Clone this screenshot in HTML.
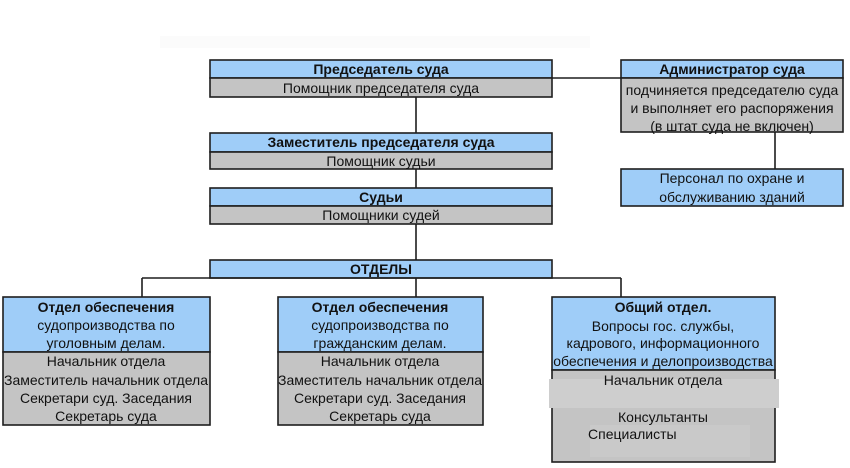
<!DOCTYPE html>
<html><head><meta charset="utf-8">
<style>
html,body{margin:0;padding:0;background:#fff;}
svg{display:block;}
text{font-family:"Liberation Sans","DejaVu Sans",sans-serif;font-size:14px;fill:#111;}
.b{font-weight:bold;font-size:14px;}
</style></head>
<body>
<svg width="850" height="468" viewBox="0 0 850 468" xmlns="http://www.w3.org/2000/svg">
<rect x="0" y="0" width="850" height="468" fill="#fff"/>
<rect x="160" y="36" width="430" height="12" fill="#fbfbfb"/>

<g stroke="#1e1e1e" stroke-width="1.6">
<rect x="210" y="60" width="342" height="18" fill="#9fcdf8"/>
<rect x="210" y="78" width="342" height="19" fill="#c4c4c4"/>
<rect x="210" y="133" width="342" height="19" fill="#9fcdf8"/>
<rect x="210" y="152" width="342" height="17" fill="#c4c4c4"/>
<rect x="210" y="188" width="342" height="18" fill="#9fcdf8"/>
<rect x="210" y="206" width="342" height="18" fill="#c4c4c4"/>
<rect x="210" y="260" width="342" height="18" fill="#9fcdf8"/>
<rect x="621" y="60" width="222" height="18" fill="#9fcdf8"/>
<rect x="621" y="78" width="222" height="54" fill="#c4c4c4"/>
<rect x="621" y="169" width="222" height="37" fill="#9fcdf8"/>
<rect x="3" y="297" width="207" height="55" fill="#9fcdf8"/>
<rect x="3" y="352" width="207" height="73" fill="#c4c4c4"/>
<rect x="278" y="297" width="205" height="55" fill="#9fcdf8"/>
<rect x="278" y="352" width="205" height="73" fill="#c4c4c4"/>
<rect x="552" y="297" width="223" height="73" fill="#9fcdf8"/>
<rect x="552" y="370" width="223" height="92" fill="#c4c4c4"/>

<line x1="416" y1="97" x2="416" y2="133" fill="none"/>
<line x1="416" y1="169" x2="416" y2="188" fill="none"/>
<line x1="416" y1="224" x2="416" y2="260" fill="none"/>
<line x1="552" y1="78" x2="621" y2="78" fill="none"/>
<line x1="775" y1="132" x2="775" y2="169" fill="none"/>
<line x1="142" y1="278" x2="621" y2="278" fill="none"/>
<line x1="142" y1="278" x2="142" y2="297" fill="none"/>
<line x1="416" y1="278" x2="416" y2="297" fill="none"/>
<line x1="621" y1="278" x2="621" y2="297" fill="none"/>
</g>

<rect x="549" y="379" width="230" height="29" fill="#cecece"/>
<rect x="590" y="425" width="160" height="32" fill="#c9c9c9"/>

<text class="b" x="381" y="74" text-anchor="middle">Председатель суда</text>
<text x="381" y="93" text-anchor="middle">Помощник председателя суда</text>
<text class="b" x="381" y="147" text-anchor="middle">Заместитель председателя суда</text>
<text x="381" y="166" text-anchor="middle">Помощник судьи</text>
<text class="b" x="381" y="202" text-anchor="middle">Судьи</text>
<text x="381" y="220" text-anchor="middle">Помощники судей</text>
<text class="b" x="381" y="274" text-anchor="middle">ОТДЕЛЫ</text>

<text class="b" x="732" y="74" text-anchor="middle">Администратор суда</text>
<text x="732" y="95" text-anchor="middle">подчиняется председателю суда</text>
<text x="732" y="113" text-anchor="middle">и выполняет его распоряжения</text>
<text x="732" y="131" text-anchor="middle">(в штат суда не включен)</text>
<text x="732" y="183" text-anchor="middle">Персонал по охране и</text>
<text x="732" y="202" text-anchor="middle">обслуживанию зданий</text>

<text class="b" x="106" y="312" text-anchor="middle">Отдел обеспечения</text>
<text x="106" y="330" text-anchor="middle">судопроизводства по</text>
<text x="106" y="348" text-anchor="middle">уголовным делам.</text>
<text x="106" y="366" text-anchor="middle">Начальник отдела</text>
<text x="106" y="385" text-anchor="middle">Заместитель начальник отдела</text>
<text x="106" y="403" text-anchor="middle">Секретари суд. Заседания</text>
<text x="106" y="421" text-anchor="middle">Секретарь суда</text>

<text class="b" x="380" y="312" text-anchor="middle">Отдел обеспечения</text>
<text x="380" y="330" text-anchor="middle">судопроизводства по</text>
<text x="380" y="348" text-anchor="middle">гражданским делам.</text>
<text x="380" y="366" text-anchor="middle">Начальник отдела</text>
<text x="380" y="385" text-anchor="middle">Заместитель начальник отдела</text>
<text x="380" y="403" text-anchor="middle">Секретари суд. Заседания</text>
<text x="380" y="421" text-anchor="middle">Секретарь суда</text>

<text class="b" x="663" y="312" text-anchor="middle">Общий отдел.</text>
<text x="663" y="331" text-anchor="middle">Вопросы гос. службы,</text>
<text x="663" y="348" text-anchor="middle">кадрового, информационного</text>
<text x="663" y="366" text-anchor="middle">обеспечения и делопроизводства</text>
<text x="663" y="385" text-anchor="middle">Начальник отдела</text>
<text x="663" y="422" text-anchor="middle">Консультанты</text>
<text x="588" y="439">Специалисты</text>
</svg>
</body></html>
